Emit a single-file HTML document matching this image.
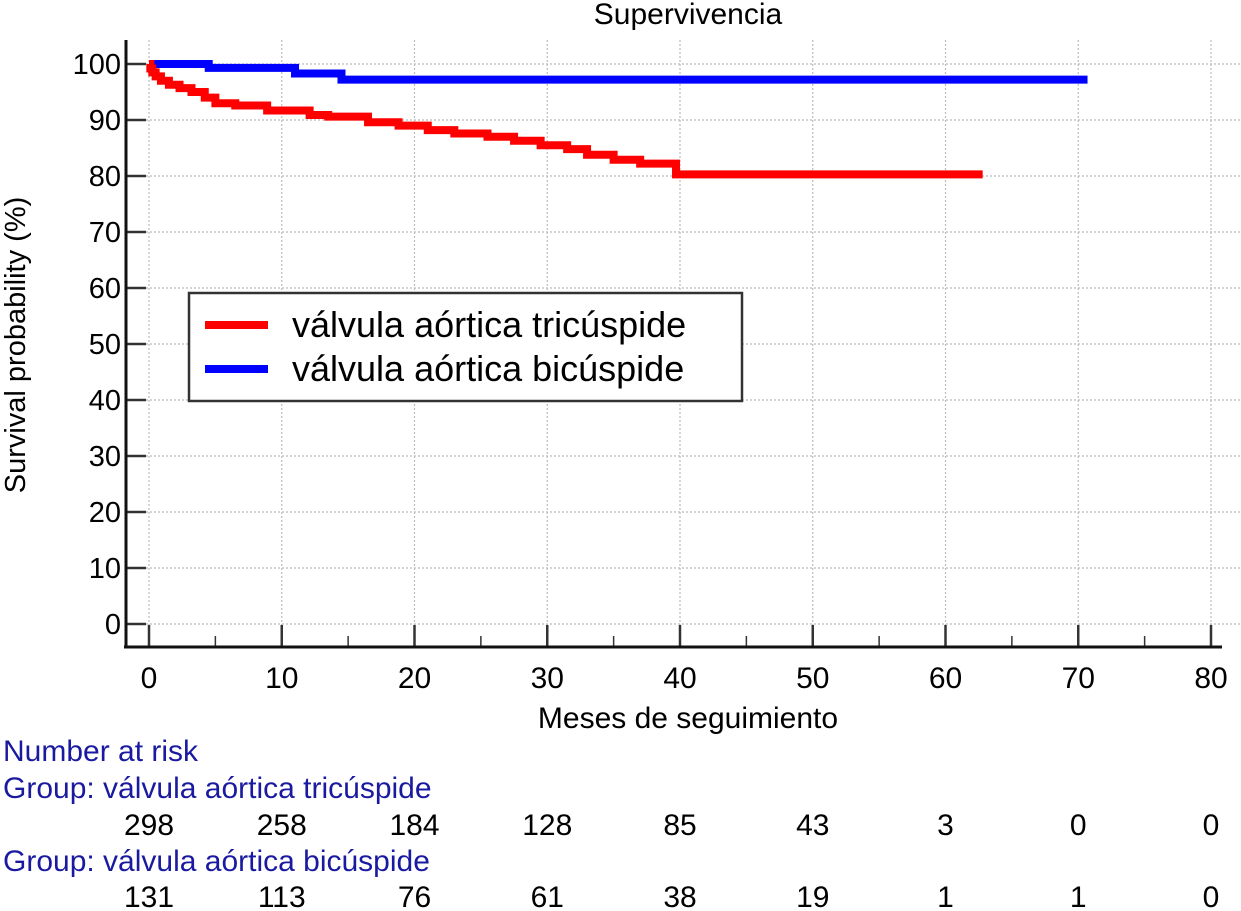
<!DOCTYPE html>
<html><head><meta charset="utf-8"><style>
body{margin:0;background:#fff;}
svg{display:block;font-family:"Liberation Sans",sans-serif;}
</style></head><body>
<svg id="chart" width="1241" height="911" viewBox="0 0 1241 911" xmlns="http://www.w3.org/2000/svg">
<text x="688" y="24" font-size="30" text-anchor="middle">Supervivencia</text>
<text transform="translate(25,345) rotate(-90)" font-size="29" text-anchor="middle">Survival probability (%)</text>
<text x="688" y="728" font-size="30" text-anchor="middle">Meses de seguimiento</text>
<g id="grid"></g><g id="axes"></g><g id="series"></g>
<g>
<rect x="189" y="293" width="553" height="108" fill="#fff" stroke="#333" stroke-width="2.5"/>
<line x1="205" y1="325" x2="268" y2="325" stroke="#ff0000" stroke-width="8"/>
<text x="292" y="337" font-size="36">válvula aórtica tricúspide</text>
<line x1="205" y1="369" x2="268" y2="369" stroke="#0000ff" stroke-width="8"/>
<text x="292" y="381" font-size="36">válvula aórtica bicúspide</text>
</g>
<g font-size="30">
<text x="3" y="761" fill="#1a1aa0">Number at risk</text>
<text x="3" y="798" fill="#1a1aa0">Group: válvula aórtica tricúspide</text>
<text x="3" y="871" fill="#1a1aa0">Group: válvula aórtica bicúspide</text>
<g id="risk"></g>
</g>
</svg>
<script>
const xTicks=[0,10,20,30,40,50,60,70,80];
const yTicks=[0,10,20,30,40,50,60,70,80,90,100];
const redTimes=[0,0.1,0.25,0.5,0.9,1.5,2.3,3.2,4.2,5.0,6.5,8.9,12.1,13.5,16.5,18.8,21,23,25.5,27.5,29.5,31.5,33,35,37,39.7];
const redSurv=[100,99.2,98.5,97.8,97,96.3,95.7,95,94,93,92.6,91.7,90.9,90.6,89.6,89,88.2,87.6,87,86.3,85.5,84.8,83.8,82.9,82.2,80.3];
const redEnd=62.8;
const blueTimes=[0,4.5,11,14.5];
const blueSurv=[100,99.3,98.3,97.2];
const blueEnd=70.7;
const riskTri=[298,258,184,128,85,43,3,0,0];
const riskBi=[131,113,76,61,38,19,1,1,0];

const NS="http://www.w3.org/2000/svg";
const X=t=>149+t*(1211-149)/80;
const Y=s=>624-s*5.6;
function mk(tag,attrs,parent){const e=document.createElementNS(NS,tag);for(const k in attrs)e.setAttribute(k,attrs[k]);parent.appendChild(e);return e;}
const grid=document.getElementById('grid'),axes=document.getElementById('axes'),series=document.getElementById('series'),risk=document.getElementById('risk');
xTicks.forEach(t=>{
 const g=mk('line',{x1:X(t),x2:X(t),y1:40,y2:647,stroke:'#bbb','stroke-width':1.2,'stroke-dasharray':'2,2'},grid);
 
 
 const tk=mk('line',{x1:X(t),x2:X(t),y1:625,y2:647,stroke:'#333','stroke-width':2.5},axes);
 
 
 const lb=mk('text',{x:X(t),y:688,'font-size':30,'text-anchor':'middle'},axes);lb.textContent=t;
 
 
 if(t<80){const m=mk('line',{x1:X(t+5),x2:X(t+5),y1:636,y2:647,stroke:'#333','stroke-width':1.5},axes);
 
 }
});
yTicks.forEach(s=>{
 const g=mk('line',{x1:126,x2:1241,y1:Y(s),y2:Y(s),stroke:'#bbb','stroke-width':1.2,'stroke-dasharray':'2,2'},grid);
 
 
 const tk=mk('line',{x1:126,x2:146,y1:Y(s),y2:Y(s),stroke:'#333','stroke-width':2.5},axes);
 
 
 const lb=mk('text',{x:121,y:Y(s)+10,'font-size':29,'text-anchor':'end'},axes);lb.textContent=s;
 
 
});
const ya=mk('line',{x1:126,x2:126,y1:40,y2:648,stroke:'#111','stroke-width':3},axes);


const xa=mk('line',{x1:124,x2:1222,y1:647,y2:647,stroke:'#111','stroke-width':3},axes);


function step(ts,ss,end,color,name){
 let d='M'+X(ts[0])+','+Y(ss[0]);
 for(let i=1;i<ts.length;i++){d+=' H'+X(ts[i])+' V'+Y(ss[i]);}
 d+=' H'+X(end);
 const p=mk('path',{d:d,fill:'none',stroke:color,'stroke-width':8},series);
 
 
}
step(blueTimes,blueSurv,blueEnd,'#0000ff','bicuspid-survival-line');
step(redTimes,redSurv,redEnd,'#ff0000','tricuspid-survival-line');
xTicks.forEach((t,i)=>{
 const a=mk('text',{x:X(t),y:835,'text-anchor':'middle'},risk);a.textContent=riskTri[i];
 
 
 const b=mk('text',{x:X(t),y:907,'text-anchor':'middle'},risk);b.textContent=riskBi[i];
 
 
});
</script>
</body></html>
